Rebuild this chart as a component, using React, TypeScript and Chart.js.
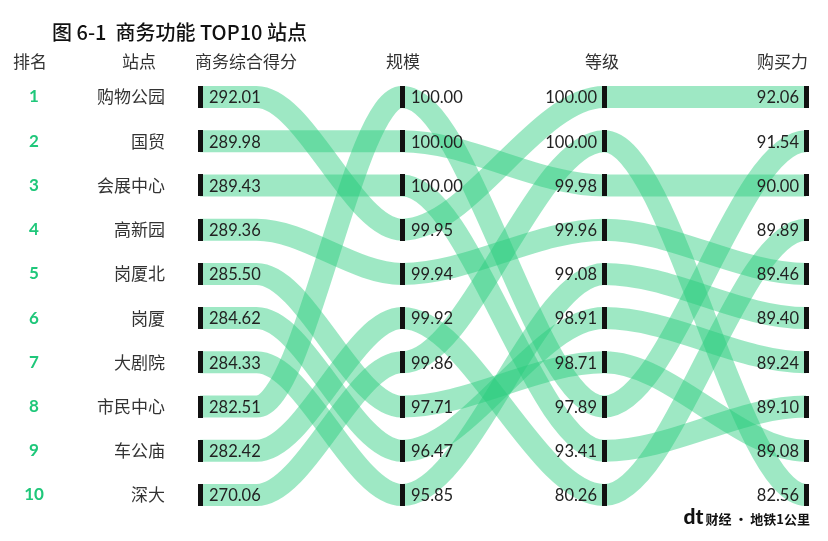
import React, { useEffect, useRef } from "react";
import { Chart, registerables } from "chart.js";

Chart.register(...registerables);

const titleText = "图 6-1  商务功能 TOP10 站点";
const headerLabels = ["排名", "站点", "商务综合得分", "规模", "等级", "购买力"];
const footerLogo = "dt";
const footerText = "财经 · 地铁1公里";

const stations = ["购物公园", "国贸", "会展中心", "高新园", "岗厦北", "岗厦", "大剧院", "市民中心", "车公庙", "深大"];

// values of each column, listed from rank 1 to rank 10
const scoreValues = [292.01, 289.98, 289.43, 289.36, 285.5, 284.62, 284.33, 282.51, 282.42, 270.06];
const scaleValues = [100.0, 100.0, 100.0, 99.95, 99.94, 99.92, 99.86, 97.71, 96.47, 95.85];
const levelValues = [100.0, 100.0, 99.98, 99.96, 99.08, 98.91, 98.71, 97.89, 93.41, 80.26];
const powerValues = [92.06, 91.54, 90.0, 89.89, 89.46, 89.4, 89.24, 89.1, 89.08, 82.56];

// rank of each station (same order as `stations`) in each column
const scoreRank = [1, 2, 3, 4, 5, 6, 7, 8, 9, 10];
const scaleRank = [4, 2, 3, 5, 8, 9, 10, 1, 6, 7];
const levelRank = [1, 3, 9, 4, 7, 6, 5, 8, 10, 2];
const powerRank = [1, 3, 8, 5, 9, 7, 6, 2, 4, 10];

const GREEN = "rgba(40, 205, 125, 0.45)";
const RANK_GREEN = "#1fc77a";
const CJK = '"Noto Sans CJK SC", "Noto Sans", sans-serif';
const NUM = 'Lato, "Noto Sans", sans-serif';

export default function App() {
  const canvasRef = useRef<HTMLCanvasElement | null>(null);

  useEffect(() => {
    document.body.style.margin = "0";
    const canvas = canvasRef.current;
    if (!canvas) return;

    const ranksByCol = [scoreRank, scaleRank, levelRank, powerRank];
    const valuesByCol = [scoreValues, scaleValues, levelValues, powerValues];
    const FLAT = 0.28;
    const EPS = 0.001;

    const ribbonSets = stations.map((name, i) => {
      const r = ranksByCol.map((col) => col[i]);
      return {
        label: name,
        data: [
          { x: 0, y: r[0] },
          { x: FLAT, y: r[0] },
          { x: 1, y: r[1] },
          { x: 1 + EPS, y: r[1] },
          { x: 2, y: r[2] },
          { x: 2 + EPS, y: r[2] },
          { x: 3, y: r[3] },
          { x: 3 + EPS, y: r[3] },
        ],
        borderColor: GREEN,
        backgroundColor: GREEN,
        borderWidth: 22,
        borderCapStyle: "butt" as const,
        borderJoinStyle: "round" as const,
        cubicInterpolationMode: "monotone" as const,
        pointRadius: 0,
        fill: false,
        clip: false as any,
        order: 2,
      };
    });

    const marker = document.createElement("canvas");
    marker.width = 5;
    marker.height = 22;
    const mctx = marker.getContext("2d")!;
    mctx.fillStyle = "#111";
    mctx.fillRect(0, 0, 5, 22);

    const markerPoints: { x: number; y: number }[] = [];
    ranksByCol.forEach((_, c) => {
      stations.forEach((__, r) => markerPoints.push({ x: c, y: r + 1 }));
    });

    const markerSet = {
      label: "markers",
      data: markerPoints,
      showLine: false,
      pointStyle: marker as any,
      pointRadius: 3,
      clip: false as any,
      order: 1,
    };

    const textPlugin = {
      id: "textPlugin",
      afterDatasetsDraw(chart: any) {
        const ctx = chart.ctx as CanvasRenderingContext2D;
        const xs = chart.scales.x;
        const ys = chart.scales.y;
        const colX = (c: number) => xs.getPixelForValue(c);
        const rowY = (r: number) => ys.getPixelForValue(r);
        ctx.save();
        ctx.textBaseline = "middle";

        // title
        ctx.fillStyle = "#111";
        ctx.font = `500 20px ${CJK}`;
        ctx.textAlign = "left";
        ctx.fillText(titleText, 52, 32);

        // headers
        ctx.font = `17px ${CJK}`;
        ctx.fillStyle = "#333";
        const headerY = 62;
        ctx.textAlign = "center";
        ctx.fillText(headerLabels[0], 30, headerY);
        ctx.fillText(headerLabels[1], 139, headerY);
        ctx.textAlign = "left";
        ctx.fillText(headerLabels[2], colX(0) - 5, headerY);
        ctx.textAlign = "center";
        ctx.fillText(headerLabels[3], colX(1) + 1, headerY);
        ctx.fillText(headerLabels[4], colX(2) - 2, headerY);
        ctx.textAlign = "right";
        ctx.fillText(headerLabels[5], colX(3) + 2, headerY);

        // rows
        stations.forEach((name, i) => {
          const y = rowY(i + 1);
          ctx.font = `bold 17px ${NUM}`;
          ctx.fillStyle = RANK_GREEN;
          ctx.textAlign = "center";
          ctx.fillText(String(i + 1), 34, y);

          ctx.font = `17px ${CJK}`;
          ctx.fillStyle = "#333";
          ctx.textAlign = "right";
          ctx.fillText(stations[scoreRank.indexOf(i + 1)], 165, y);
        });

        // value labels per column
        ctx.font = `16.5px ${NUM}`;
        ctx.fillStyle = "#222";
        valuesByCol.forEach((vals, c) => {
          vals.forEach((v, r) => {
            const y = rowY(r + 1) + 1;
            const text = v.toFixed(2);
            if (c < 2) {
              ctx.textAlign = "left";
              ctx.fillText(text, colX(c) + 9, y);
            } else {
              ctx.textAlign = "right";
              ctx.fillText(text, colX(c) - 7, y);
            }
          });
        });

        // footer
        ctx.textAlign = "right";
        ctx.fillStyle = "#111";
        ctx.font = `bold 13px ${CJK}`;
        const footW = ctx.measureText(footerText).width;
        ctx.fillText(footerText, 810, 519);
        ctx.font = `900 21px ${NUM}`;
        ctx.fillText(footerLogo, 810 - footW - 2, 517);
        ctx.restore();
      },
    };

    const chart = new Chart(canvas, {
      type: "line",
      data: { datasets: [...ribbonSets, markerSet] as any },
      options: {
        responsive: false,
        animation: false,
        events: [],
        layout: { padding: { left: 200, right: 22, top: 97, bottom: 46 } },
        elements: { line: { capBezierPoints: false } as any },
        scales: {
          x: { type: "linear", min: 0, max: 3, display: false },
          y: { type: "linear", min: 1, max: 10, reverse: true, display: false },
        },
        plugins: {
          legend: { display: false },
          tooltip: { enabled: false },
          title: { display: false },
        },
      },
      plugins: [textPlugin],
    });

    return () => chart.destroy();
  }, []);

  return (
    <div style={{ width: 828, height: 541, background: "#fff" }}>
      <canvas ref={canvasRef} width={828} height={541} style={{ display: "block" }} />
    </div>
  );
}
